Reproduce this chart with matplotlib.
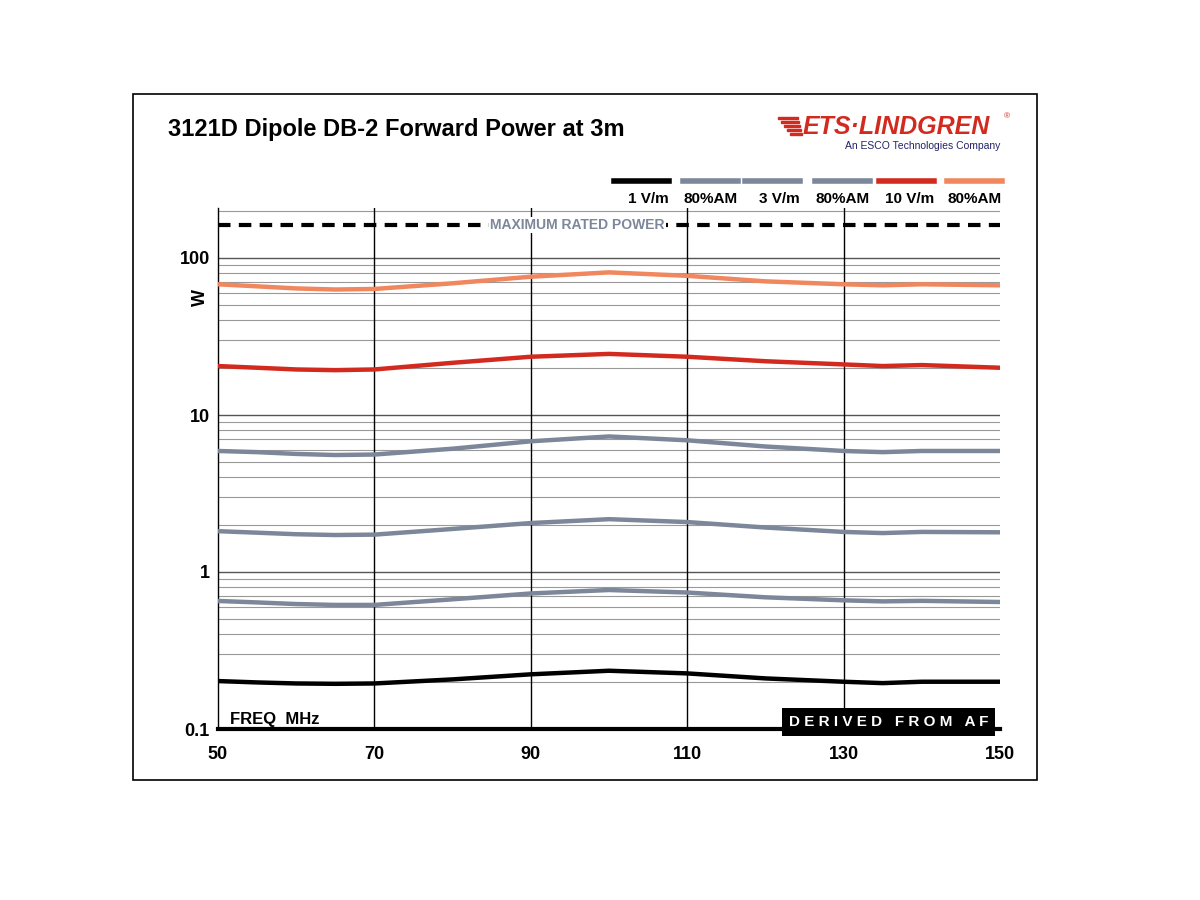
import matplotlib
matplotlib.use("Agg")
import matplotlib.pyplot as plt
from matplotlib.patches import Rectangle
import numpy as np

freq = [50, 55, 60, 65, 70, 80, 90, 100, 110, 120, 130, 135, 140, 150]
p_10v_am = [68, 66, 64, 63, 63.5, 69, 76, 81, 77, 71, 68, 67, 68, 67]
p_10v = [20.5, 20, 19.5, 19.3, 19.5, 21.5, 23.5, 24.5, 23.5, 22, 21, 20.5, 20.8, 20]
p_3v_am = [5.9, 5.8, 5.65, 5.56, 5.6, 6.1, 6.8, 7.3, 6.9, 6.3, 5.9, 5.8, 5.9, 5.9]
p_3v = [1.82, 1.78, 1.74, 1.72, 1.73, 1.88, 2.05, 2.17, 2.08, 1.92, 1.8, 1.77, 1.8, 1.79]
p_1v_am = [0.654, 0.64, 0.625, 0.617, 0.617, 0.67, 0.73, 0.768, 0.74, 0.69, 0.66, 0.65, 0.655, 0.644]
p_1v = [0.202, 0.198, 0.195, 0.194, 0.195, 0.207, 0.223, 0.235, 0.226, 0.21, 0.2, 0.196, 0.2, 0.2]
max_power = 162

GRAY = "#7d879a"
RED = "#d32a1f"
ORANGE = "#f0875e"
series = [(p_1v, "black"), (p_1v_am, GRAY), (p_3v, GRAY), (p_3v_am, GRAY), (p_10v, RED), (p_10v_am, ORANGE)]
leg_labels = ["1 V/m", "80%AM", "3 V/m", "80%AM", "10 V/m", "80%AM"]
leg_colors = ["black", GRAY, GRAY, GRAY, RED, ORANGE]

plt.rcParams['font.family'] = ['Liberation Sans', 'DejaVu Sans']
fig = plt.figure(figsize=(12, 9), dpi=100)
fig.patches.append(Rectangle((133/1200, 1-780/900), 904/1200, 686/900, transform=fig.transFigure,
                             fill=False, edgecolor="black", lw=1.2))

ax = fig.add_axes([218/1200, 1-729/900, 782/1200, 521/900])
ax.set_yscale("log")
ax.set_xlim(50, 150)
ax.set_ylim(0.1, 10**(2+50/157))
for d in [0.1, 1, 10, 100]:
    for m in range(1, 10):
        v = d*m
        if v < 210:
            ax.axhline(v, color="#999999" if m > 1 else "#555555", lw=0.8 if m > 1 else 1.0, zorder=1)
for x in [70, 90, 110, 130]:
    ax.axvline(x, color="black", lw=1.0, zorder=1)
for s in ["top", "right"]:
    ax.spines[s].set_visible(False)
ax.spines["left"].set_linewidth(1.0)
ax.spines["bottom"].set_linewidth(3)
ax.set_xticks([50, 70, 90, 110, 130, 150])
ax.set_xticklabels(["50", "70", "90", "110", "130", "150"], fontsize=13, fontweight="bold")
ax.set_yticks([0.1, 1, 10, 100])
ax.set_yticklabels(["0.1", "1", "10", "100"], fontsize=13, fontweight="bold")
ax.yaxis.set_minor_locator(matplotlib.ticker.NullLocator())
ax.tick_params(axis="y", length=0, pad=6)
ax.tick_params(axis="x", length=0, pad=12)

for ys, c in series:
    ax.plot(freq, ys, color=c, lw=3.2, zorder=3)

ax.axhline(max_power, color="black", lw=3, ls=(0, (3, 2)), zorder=3)
ax.text(96, max_power, "MAXIMUM RATED POWER", color=GRAY, fontsize=10, fontweight="bold",
        ha="center", va="center", zorder=4, bbox=dict(facecolor="white", edgecolor="none", pad=1))

ax.text(51.5, 0.115, "FREQ  MHz", fontsize=12, fontweight="bold", va="center", zorder=5)
ax.text(123, 0.1, "D E R I V E D   F R O M   A F", fontsize=11, fontweight="bold", color="white",
        va="bottom", ha="left", zorder=5,
        bbox=dict(facecolor="black", edgecolor="none", boxstyle="square,pad=0.45"))
fig.text(200/1200, 1-298/900, "W", rotation=90, fontsize=13, fontweight="bold", ha="center", va="center")

fig.text(168/1200, 1-130/900, "3121D Dipole DB-2 Forward Power at 3m", fontsize=17, fontweight="bold", va="center")
fig.text(803/1200, 1-127/900, "ETS·LINDGREN", fontsize=18, fontweight="bold", style="italic",
         color="#d32a1f", va="center")
for i in range(5):
    fig.patches.append(Rectangle(((778+i*3)/1200, 1-(119+i*4)/900), (20-i*2)/1200, 2/900,
                                 transform=fig.transFigure, color="#d32a1f"))
fig.text(1004/1200, 1-117/900, "®", fontsize=6, color="#d32a1f", va="center")
fig.text(1000/1200, 1-146/900, "An ESCO Technologies Company", fontsize=7.5, color="#222266",
         ha="right", va="center")

starts = [597, 680, 752, 810, 882, 940]
widths = [72, 58, 48, 60, 52, 62]
for x0, w, lab, c in zip(starts, widths, leg_labels, leg_colors):
    fig.lines.append(plt.Line2D([(x0+w-55)/1200, (x0+w)/1200], [1-181/900]*2, transform=fig.transFigure,
                                color=c, lw=4))
    fig.text((x0+w)/1200, 1-199/900, lab, fontsize=11, fontweight="bold", ha="right", va="center")

fig.savefig("out.png", dpi=100)
